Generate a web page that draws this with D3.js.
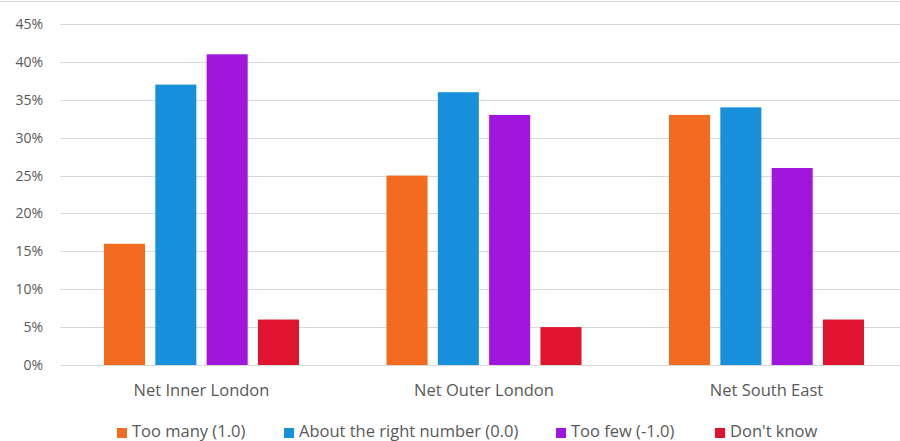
<!DOCTYPE html>
<html>
<head>
<meta charset="utf-8">
<script src="https://cdn.jsdelivr.net/npm/d3@7"></script>
<style>
  html, body { margin: 0; padding: 0; background: #fff; }
  svg { display: block; font-family: "Open Sans", "Liberation Sans", sans-serif; }
</style>
</head>
<body>
<svg id="chart" width="900" height="441"></svg>
<script>
const categories = ["Net Inner London", "Net Outer London", "Net South East"];
const seriesNames = ["Too many (1.0)", "About the right number (0.0)", "Too few (-1.0)", "Don't know"];
const seriesColors = ["#F26B21", "#1690DB", "#A016DC", "#E0142E"];
const tooMany = [16, 25, 33];
const aboutRight = [37, 36, 34];
const tooFew = [41, 33, 26];
const dontKnow = [6, 5, 6];
const yTicks = [0, 5, 10, 15, 20, 25, 30, 35, 40, 45];
const legendX = [117, 284, 556, 715];

const seriesValues = [tooMany, aboutRight, tooFew, dontKnow];

const svg = d3.select("#chart");

// top border
svg.append("line").attr("x1", 0).attr("x2", 900).attr("y1", 1.5).attr("y2", 1.5)
  .attr("stroke", "#d9d9d9").attr("stroke-width", 1);

const y = d3.scaleLinear().domain([0, 45]).range([365, 24]);
const x = d3.scaleBand().domain(categories).range([60.25, 907.75]).paddingInner(0).paddingOuter(0);
const bw = x.bandwidth();
const xs = d3.scaleBand().domain(d3.range(4)).range([(bw - 195) / 2, (bw + 195) / 2]).paddingInner(0.2).paddingOuter(0);

// gridlines
svg.append("g").selectAll("line").data(yTicks).join("line")
  .attr("x1", 60).attr("x2", 900)
  .attr("y1", d => Math.round(y(d)) + 0.5).attr("y2", d => Math.round(y(d)) + 0.5)
  .attr("stroke", "#d9d9d9").attr("stroke-width", 1);

// y axis labels
const yAxis = d3.axisLeft(y).tickValues(yTicks).tickFormat(d => d + "%").tickSize(0).tickPadding(0);
const ya = svg.append("g").attr("transform", "translate(43,0)").call(yAxis);
ya.select(".domain").remove();
ya.selectAll("text").attr("fill", "#595959").attr("font-size", "14px")
  .attr("font-family", "'Open Sans', sans-serif");

// bars
const groups = svg.append("g").selectAll("g").data(categories).join("g")
  .attr("transform", d => `translate(${x(d)},0)`);
groups.selectAll("rect").data((c, ci) => seriesValues.map((s, si) => ({ si, v: s[ci] }))).join("rect")
  .attr("x", d => xs(d.si))
  .attr("width", xs.bandwidth())
  .attr("y", d => y(d.v))
  .attr("height", d => y(0) - y(d.v))
  .attr("fill", d => seriesColors[d.si]);

// x axis labels
const xAxis = d3.axisBottom(x).tickSize(0).tickPadding(0);
const xa = svg.append("g").attr("transform", "translate(0,384)").call(xAxis);
xa.select(".domain").remove();
xa.selectAll("text").attr("fill", "#595959").attr("font-size", "16.5px")
  .attr("font-family", "'Open Sans', sans-serif");

// legend
const lg = svg.append("g").selectAll("g").data(seriesNames).join("g")
  .attr("transform", (d, i) => `translate(${legendX[i]},0)`);
lg.append("rect").attr("x", 0).attr("y", 428).attr("width", 10).attr("height", 10)
  .attr("fill", (d, i) => seriesColors[i]);
lg.append("text").attr("x", 15).attr("y", 437).text(d => d)
  .attr("fill", "#595959").attr("font-size", "16.5px");
</script>
</body>
</html>
